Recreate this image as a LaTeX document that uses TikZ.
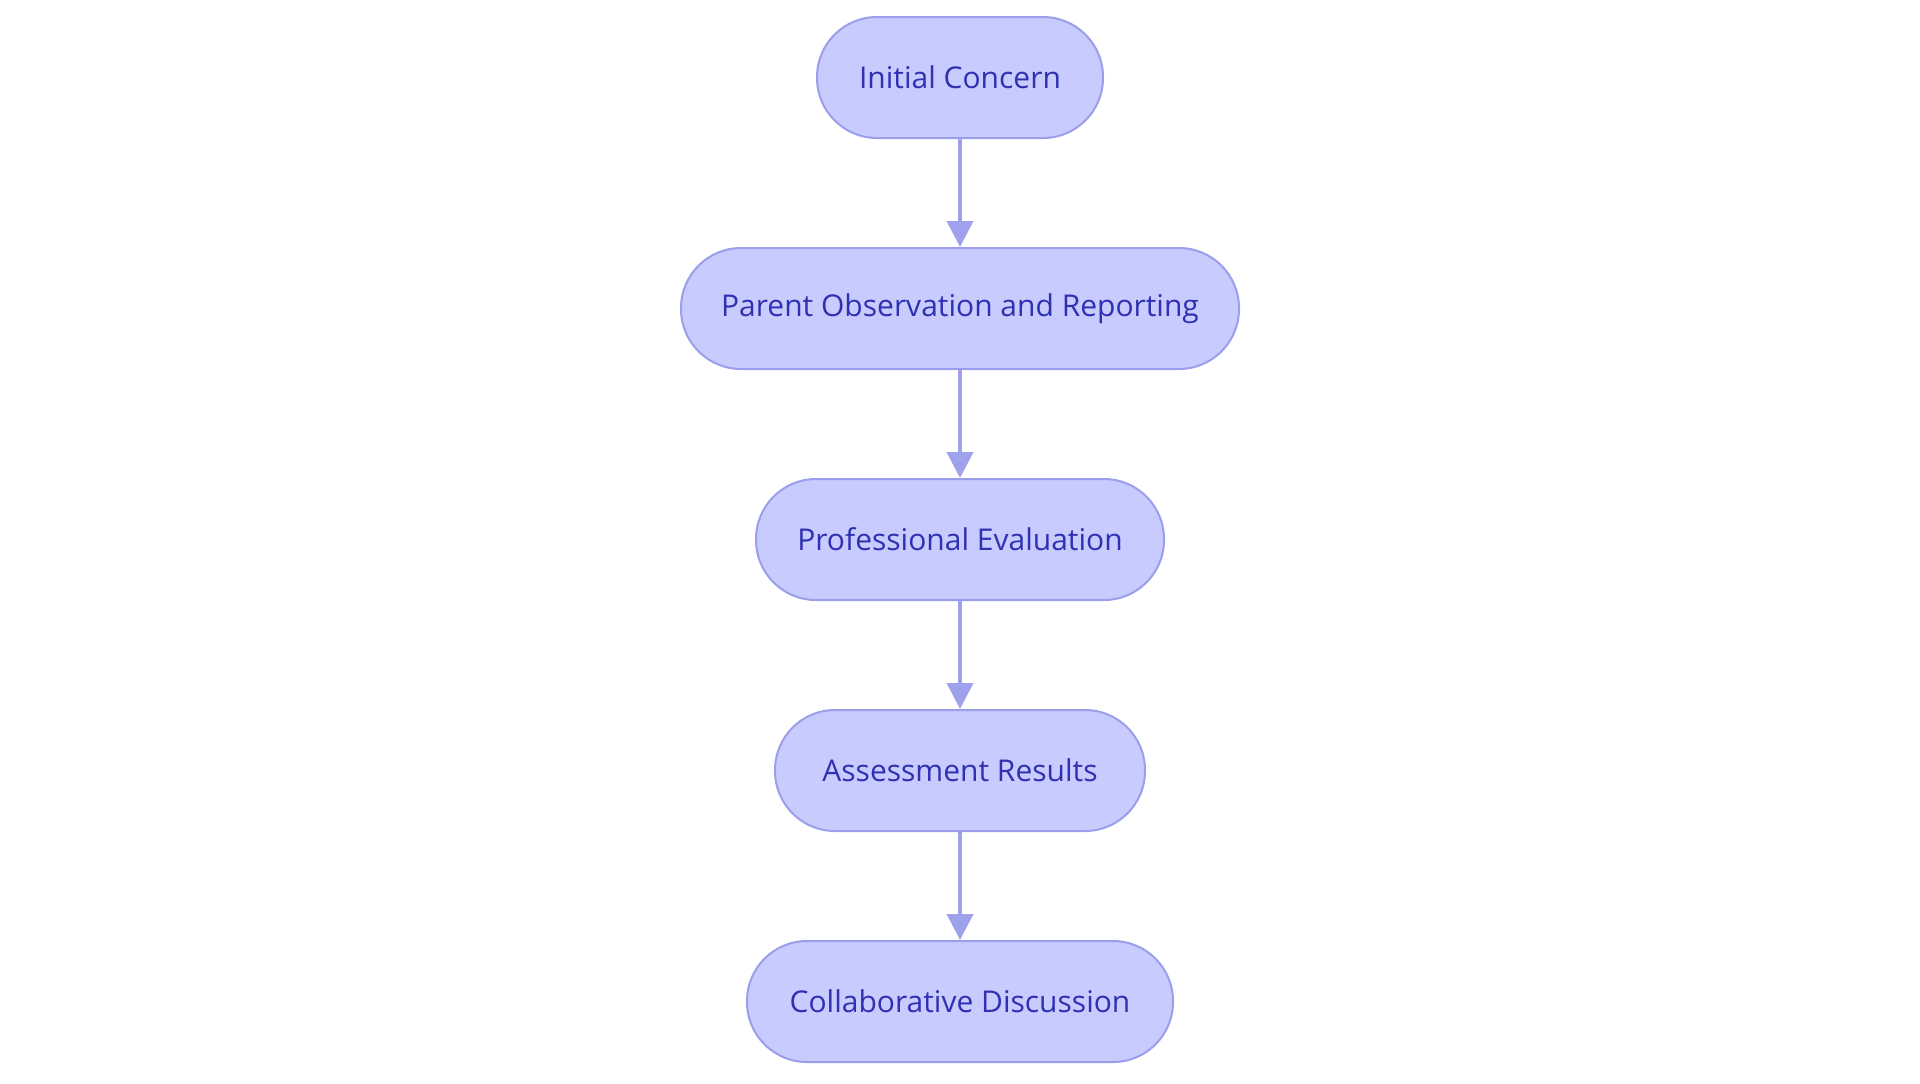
\documentclass[tikz,border=0pt]{standalone}
\usepackage{fontspec}
\setmainfont{Open Sans}
\usetikzlibrary{positioning,arrows.meta}
\definecolor{boxfill}{HTML}{C8CBFE}
\definecolor{boxline}{HTML}{9A9EEB}
\definecolor{boxtext}{HTML}{2E31B2}
\definecolor{arrowline}{HTML}{9EA2EC}
\tikzset{
stage/.style={draw=boxline,fill=boxfill,line width=1pt,rounded corners=30pt,
minimum height=60.5pt,inner sep=0pt,text=boxtext,font=\fontsize{15}{18}\selectfont},
flow/.style={draw=arrowline,line width=2pt,-{Triangle[length=13pt,width=13pt]}}
}
\begin{document}
\begin{tikzpicture}
\useasboundingbox (0,0) rectangle (960pt,-541.5pt);
\node[stage,minimum width=143pt] (concern) at (480pt,-38.75pt) {Initial Concern};
\node[stage,minimum width=279pt,below=54pt of concern] (parent) {Parent Observation and Reporting};
\node[stage,minimum width=204pt,below=54pt of parent] (evaluation) {Professional Evaluation};
\node[stage,minimum width=185pt,below=54pt of evaluation] (results) {Assessment Results};
\node[stage,minimum width=213pt,below=54pt of results] (discussion) {Collaborative Discussion};
\draw[flow] (concern) -- (parent);
\draw[flow] (parent) -- (evaluation);
\draw[flow] (evaluation) -- (results);
\draw[flow] (results) -- (discussion);
\end{tikzpicture}
\end{document}
